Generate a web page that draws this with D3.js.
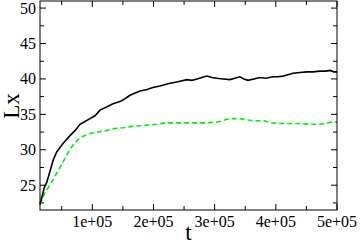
<!DOCTYPE html>
<html>
<head>
<meta charset="utf-8">
<script src="https://cdn.jsdelivr.net/npm/d3@7"></script>
<style>
  body { margin: 0; background: #fff; }
</style>
</head>
<body>
<div id="chart"></div>
<script>
// black solid curve
var tBlack = [14500, 17300, 21600, 25500, 30900, 36300, 41800, 52100, 63600, 71700, 79900, 88100, 96200,
  104400, 112600, 122400, 133800, 145300, 153400, 161600, 177900, 189400, 199200, 210600, 227000, 240000,
  254700, 262900, 271100, 279200, 287400, 295600, 303800, 313600, 325000, 333200, 341300, 347900, 354400,
  364200, 374000, 383800, 395300, 403400, 411600, 419800, 428000, 439400, 450800, 460600, 472100, 481900,
  488400, 494900, 500000];
var lxBlack = [22.3, 23.2, 24.7, 25.4, 27.0, 28.6, 29.7, 30.9, 32.0, 32.7, 33.6, 34.0, 34.4,
  34.8, 35.6, 36.0, 36.5, 36.8, 37.2, 37.7, 38.3, 38.5, 38.8, 39.0, 39.4, 39.6,
  39.9, 39.8, 40.0, 40.2, 40.4, 40.2, 40.1, 40.0, 39.9, 40.1, 40.3, 40.0, 39.8,
  40.0, 40.2, 40.1, 40.3, 40.3, 40.4, 40.6, 40.8, 40.9, 41.0, 41.0, 41.1, 41.1,
  41.2, 41.0, 41.0];

// green dashed curve
var tGreen = [14500, 17300, 22700, 30900, 39100, 47200, 55400, 63600, 71700, 79900, 88100, 96200,
  109300, 122400, 137100, 150200, 164900, 177900, 194300, 205700, 218800, 235100, 254700, 271100,
  287400, 303800, 312000, 320100, 330000, 341300, 354400, 367500, 380600, 393600, 406700, 423000,
  439400, 455700, 472100, 481900, 490000, 500000];
var lxGreen = [22.3, 22.9, 24.0, 25.0, 26.3, 27.5, 28.8, 30.1, 31.0, 31.7, 32.0, 32.3,
  32.5, 32.7, 33.0, 33.1, 33.3, 33.4, 33.5, 33.6, 33.8, 33.8, 33.8, 33.8,
  33.8, 33.9, 34.1, 34.3, 34.4, 34.4, 34.2, 34.1, 34.1, 33.8, 33.7, 33.7,
  33.7, 33.6, 33.6, 33.7, 33.9, 33.9];

var xTicks = [100000, 200000, 300000, 400000, 500000];
var xTickLabels = ["1e+05", "2e+05", "3e+05", "4e+05", "5e+05"];
var yTicks = [25, 30, 35, 40, 45, 50];

var width = 360, height = 244;
var margin = {top: 1, right: 23, bottom: 34, left: 40};
var w = width - margin.left - margin.right;
var h = height - margin.top - margin.bottom;
var serif = "Liberation Serif";

var x = d3.scaleLinear().domain([14500, 500000]).range([0, w]);
var y = d3.scaleLinear().domain([21.5, 51]).range([h, 0]);

var svg = d3.select("#chart").append("svg")
  .attr("width", width).attr("height", height);
var g = svg.append("g")
  .attr("transform", "translate(" + margin.left + "," + margin.top + ")");

// ticks inward on all sides
var xMinor = d3.range(50000, 500001, 50000);
var yMinor = d3.range(22.5, 51, 2.5);

function isMajorX(d) { return d % 100000 === 0; }
function isMajorY(d) { return d % 5 === 0; }

g.selectAll(".xt").data(xMinor).enter().append("line")
  .attr("x1", d => x(d)).attr("x2", d => x(d))
  .attr("y1", h).attr("y2", d => h - (isMajorX(d) ? 6 : 4))
  .attr("stroke", "#000");
g.selectAll(".xtt").data(xMinor).enter().append("line")
  .attr("x1", d => x(d)).attr("x2", d => x(d))
  .attr("y1", 0).attr("y2", d => (isMajorX(d) ? 6 : 4))
  .attr("stroke", "#000");
g.selectAll(".yt").data(yMinor).enter().append("line")
  .attr("y1", d => y(d)).attr("y2", d => y(d))
  .attr("x1", 0).attr("x2", d => (isMajorY(d) ? 6 : 4))
  .attr("stroke", "#000");
g.selectAll(".ytr").data(yMinor).enter().append("line")
  .attr("y1", d => y(d)).attr("y2", d => y(d))
  .attr("x1", w).attr("x2", d => w - (isMajorY(d) ? 6 : 4))
  .attr("stroke", "#000");

// tick labels
g.selectAll(".xl").data(xTicks).enter().append("text")
  .attr("x", d => x(d)).attr("y", h + 17)
  .attr("text-anchor", "middle")
  .attr("font-family", serif)
  .attr("font-size", 16)
  .text((d, i) => xTickLabels[i]);
g.selectAll(".yl").data(yTicks).enter().append("text")
  .attr("x", -4).attr("y", d => y(d) + 5.5)
  .attr("text-anchor", "end")
  .attr("font-family", serif)
  .attr("font-size", 16)
  .text(d => d);

// curves
var line = d3.line().x(d => x(d[0])).y(d => y(d[1]));

g.append("path")
  .datum(d3.zip(tGreen, lxGreen))
  .attr("d", line)
  .attr("fill", "none")
  .attr("stroke", "#00f000")
  .attr("stroke-width", 1.6)
  .attr("stroke-dasharray", "5,3");

g.append("path")
  .datum(d3.zip(tBlack, lxBlack))
  .attr("d", line)
  .attr("fill", "none")
  .attr("stroke", "#000")
  .attr("stroke-width", 1.6);

// frame
g.append("rect")
  .attr("x", 0).attr("y", 0).attr("width", w).attr("height", h)
  .attr("fill", "none").attr("stroke", "#000").attr("stroke-width", 1);

// axis titles
svg.append("text")
  .attr("x", margin.left + w / 2).attr("y", 240)
  .attr("text-anchor", "middle")
  .attr("font-family", serif)
  .attr("font-size", 23)
  .text("t");
svg.append("text")
  .attr("transform", "translate(19,106) rotate(-90)")
  .attr("text-anchor", "middle")
  .attr("font-family", serif)
  .attr("font-size", 23)
  .text("Lx");
</script>
</body>
</html>
